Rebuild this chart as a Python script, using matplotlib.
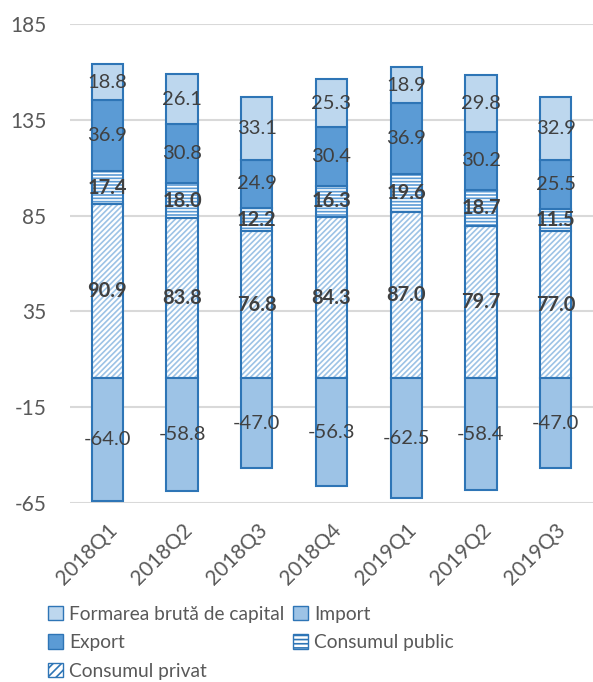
import numpy as np
import matplotlib
matplotlib.use('Agg')
import matplotlib.pyplot as plt
from matplotlib.patches import Patch

quarters = ['2018Q1', '2018Q2', '2018Q3', '2018Q4', '2019Q1', '2019Q2', '2019Q3']
privat = [90.9, 83.8, 76.8, 84.3, 87.0, 79.7, 77.0]
public = [17.4, 18.0, 12.2, 16.3, 19.6, 18.7, 11.5]
export = [36.9, 30.8, 24.9, 30.4, 36.9, 30.2, 25.5]
formarea = [18.8, 26.1, 33.1, 25.3, 18.9, 29.8, 32.9]
imports = [-64.0, -58.8, -47.0, -56.3, -62.5, -58.4, -47.0]

plt.rcParams['font.family'] = ['Lato', 'DejaVu Sans']
plt.rcParams['hatch.linewidth'] = 1.2
plt.rcParams['axes.unicode_minus'] = False

edge = '#2E75B6'
c_form = '#BDD7EE'
c_exp = '#5B9BD5'
c_imp = '#9DC3E6'
c_hatch_priv = '#9DC3E6'
c_hatch_pub = '#5B9BD5'
txt = '#404040'

fig = plt.figure(figsize=(5.93, 6.82), dpi=100)
ax = fig.add_axes([0.118, 0.2625, 0.882, 0.7025])

x = np.arange(len(quarters))
w = 0.42
privat = np.array(privat)
public = np.array(public)
export = np.array(export)
formarea = np.array(formarea)
imports = np.array(imports)

# consumul privat: diagonal hatch + outline
ax.bar(x, privat, w, color='white', edgecolor=c_hatch_priv, hatch='//////', linewidth=0, zorder=2)
ax.bar(x, privat, w, fill=False, edgecolor=edge, linewidth=1.5, zorder=3)
b1 = privat
ax.bar(x, public, w, bottom=b1, color='white', edgecolor=c_hatch_pub, hatch='-----', linewidth=0, zorder=2)
ax.bar(x, public, w, bottom=b1, fill=False, edgecolor=edge, linewidth=1.5, zorder=3)
b2 = b1 + public
ax.bar(x, export, w, bottom=b2, color=c_exp, edgecolor=edge, linewidth=1.5, zorder=3)
b3 = b2 + export
ax.bar(x, formarea, w, bottom=b3, color=c_form, edgecolor=edge, linewidth=1.5, zorder=3)
ax.bar(x, imports, w, color=c_imp, edgecolor=edge, linewidth=1.5, zorder=3)

fs = 14.5
for i in range(len(x)):
    ax.text(x[i], privat[i] / 2, '%.1f' % privat[i], ha='center', va='center',
            fontsize=fs, fontweight='bold', color=txt, zorder=5)
    ax.text(x[i], b1[i] + public[i] / 2, '%.1f' % public[i], ha='center', va='center',
            fontsize=fs, fontweight='bold', color=txt, zorder=5)
    ax.text(x[i], b2[i] + export[i] / 2, '%.1f' % export[i], ha='center', va='center',
            fontsize=fs, color=txt, zorder=5)
    ax.text(x[i], b3[i] + formarea[i] / 2, '%.1f' % formarea[i], ha='center', va='center',
            fontsize=fs, color=txt, zorder=5)
    ax.text(x[i], imports[i] / 2, '%.1f' % imports[i], ha='center', va='center',
            fontsize=fs, color=txt, zorder=5)

ax.set_xlim(-0.5, 6.5)
ax.set_ylim(-65, 185)
ax.set_yticks([-65, -15, 35, 85, 135, 185])
ax.yaxis.grid(True, color='#D9D9D9', linewidth=1.5, zorder=0)
ax.set_axisbelow(True)
for s in ax.spines.values():
    s.set_visible(False)
ax.tick_params(axis='both', length=0, labelsize=15, labelcolor='#595959')
ax.tick_params(axis='y', pad=17)
ax.tick_params(axis='x', pad=12)
ax.set_xticks(x)
ax.set_xticklabels(quarters, rotation=45, ha='right', rotation_mode='anchor')

handles = [
    Patch(facecolor=c_form, edgecolor=edge, label='Formarea brută de capital'),
    Patch(facecolor=c_exp, edgecolor=edge, label='Export'),
    Patch(facecolor='white', edgecolor=edge, hatch='////', label='Consumul privat'),
    Patch(facecolor=c_imp, edgecolor=edge, label='Import'),
    Patch(facecolor='white', edgecolor=edge, hatch='----', label='Consumul public'),
]
fig.legend(handles=handles, ncol=2, loc='upper left', bbox_to_anchor=(0.068, 0.123),
           frameon=False, fontsize=13.8, labelcolor='#595959', handlelength=0.8,
           handleheight=0.8, handletextpad=0.3, columnspacing=0.45, labelspacing=0.6,
           borderaxespad=0)

fig.savefig('out.png', dpi=100)
